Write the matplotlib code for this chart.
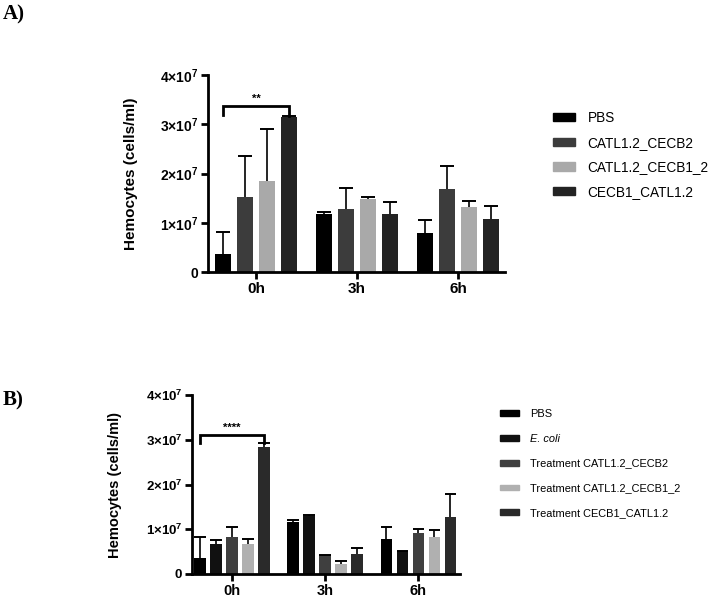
import numpy as np
import matplotlib as mpl

mpl.use('agg')
import matplotlib.pyplot as plt
from matplotlib.patches import Patch

plt.rcParams['font.family'] = ['Liberation Sans', 'DejaVu Sans']
plt.rcParams['mathtext.fontset'] = 'custom'
plt.rcParams['mathtext.rm'] = 'Liberation Sans'
plt.rcParams['mathtext.bf'] = 'Liberation Sans:bold'

times = ['0h', '3h', '6h']
y_ticks = [0, 1e7, 2e7, 3e7, 4e7]
y_tick_labels = ['0', r'1×10$^\mathbf{7}$', r'2×10$^\mathbf{7}$', r'3×10$^\mathbf{7}$',
                 r'4×10$^\mathbf{7}$']

# panel A
labels_a = ['PBS', 'CATL1.2_CECB2', 'CATL1.2_CECB1_2', 'CECB1_CATL1.2']
colors_a = ['#000000', '#3c3c3c', '#a9a9a9', '#232323']
means_a = [
  [0.37e7, 1.17e7, 0.80e7],
  [1.52e7, 1.28e7, 1.68e7],
  [1.85e7, 1.48e7, 1.32e7],
  [3.15e7, 1.17e7, 1.08e7],
]
errs_a = [
  [0.44e7, 0.05e7, 0.25e7],
  [0.84e7, 0.42e7, 0.47e7],
  [1.05e7, 0.05e7, 0.13e7],
  [0.02e7, 0.25e7, 0.27e7],
]
sig_a = (0, 3, 3.37e7, '**')

# panel B
labels_b = ['PBS', 'E. coli', 'Treatment CATL1.2_CECB2', 'Treatment CATL1.2_CECB1_2',
            'Treatment CECB1_CATL1.2']
colors_b = ['#000000', '#111111', '#3f3f3f', '#b0b0b0', '#2a2a2a']
means_b = [
  [0.36e7, 1.16e7, 0.79e7],
  [0.67e7, 1.29e7, 0.51e7],
  [0.83e7, 0.43e7, 0.92e7],
  [0.66e7, 0.23e7, 0.82e7],
  [2.84e7, 0.45e7, 1.27e7],
]
errs_b = [
  [0.47e7, 0.04e7, 0.25e7],
  [0.09e7, 0.03e7, 0.01e7],
  [0.22e7, 0.0, 0.08e7],
  [0.12e7, 0.05e7, 0.17e7],
  [0.08e7, 0.12e7, 0.52e7],
]
sig_b = (0, 4, 3.10e7, '****')


def draw_panel(ax, means, errs, colors, spacing, width, xlim, sig, cap, fs):
  n = len(means)
  groups = np.arange(len(times))
  for i in range(n):
    xs = groups + (i - (n - 1) / 2) * spacing
    m = np.array(means[i])
    e = np.array(errs[i])
    ax.bar(xs, m, width, color=colors[i], zorder=2)
    ax.vlines(xs, m, m + e, color='black', lw=1.2, zorder=3)
    ax.hlines(m + e, xs - cap, xs + cap, color='black', lw=1.4, zorder=3)

  # significance bracket
  g1, g2, h, txt = sig
  x1 = (g1 - (n - 1) / 2) * spacing
  x2 = (g2 - (n - 1) / 2) * spacing
  top2 = means[g2][0] + errs[g2][0]
  ax.plot([x1, x1, x2, x2], [h - 0.18e7, h, h, top2], color='black', lw=2,
          solid_joinstyle='miter', zorder=4, clip_on=False)
  ax.text((x1 + x2) / 2, h + 0.05e7, txt, ha='center', va='bottom',
          fontsize=8, fontweight='bold')

  ax.set_xlim(xlim)
  ax.set_ylim(0, 4e7)
  ax.set_xticks(groups)
  ax.set_xticklabels(times, fontsize=fs + 1, fontweight='bold')
  ax.set_yticks(y_ticks)
  ax.set_yticklabels(y_tick_labels, fontsize=fs, fontweight='bold')
  ax.set_ylabel('Hemocytes (cells/ml)', fontsize=fs + 1, fontweight='bold')
  for s in ['top', 'right']:
    ax.spines[s].set_visible(False)
  for s in ['left', 'bottom']:
    ax.spines[s].set_linewidth(2)
  ax.tick_params(width=2, length=5, pad=2)


fig = plt.figure(figsize=(7.09, 6.0), dpi=100)

ax_a = fig.add_axes([208 / 709, 1 - 272 / 600, 297 / 709, 197 / 600])
draw_panel(ax_a, means_a, errs_a, colors_a, 0.218, 0.15, (-0.475, 2.465), sig_a, 0.07, 10)
ax_a.yaxis.set_label_coords(-0.235, 0.5)

ax_b = fig.add_axes([192 / 709, 1 - 574 / 600, 268 / 709, 179 / 600])
draw_panel(ax_b, means_b, errs_b, colors_b, 0.172, 0.12, (-0.43, 2.45), sig_b, 0.06, 9.5)
ax_b.yaxis.set_label_coords(-0.26, 0.5)

handles_a = [Patch(color=c) for c in colors_a]
fig.legend(handles_a, labels_a, loc='upper left', bbox_to_anchor=(553 / 709, 1 - 111 / 600),
           frameon=False, fontsize=9.8, handlelength=1.6, handleheight=0.55,
           handletextpad=0.95, labelspacing=0.78, borderpad=0, borderaxespad=0)

handles_b = [Patch(color=c) for c in colors_b]
leg_b = fig.legend(handles_b, labels_b, loc='upper left', bbox_to_anchor=(500 / 709, 1 - 409 / 600),
                   frameon=False, fontsize=7.9, handlelength=1.75, handleheight=0.45,
                   handletextpad=1.0, labelspacing=1.35, borderpad=0, borderaxespad=0)
leg_b.get_texts()[1].set_fontstyle('italic')

fig.text(3 / 709, 1 - 14 / 600, 'A)', family='Liberation Serif', fontsize=15, fontweight='bold',
         va='center', ha='left')
fig.text(3 / 709, 1 - 400 / 600, 'B)', family='Liberation Serif', fontsize=15, fontweight='bold',
         va='center', ha='left')

fig.savefig('out.png', dpi=100)
